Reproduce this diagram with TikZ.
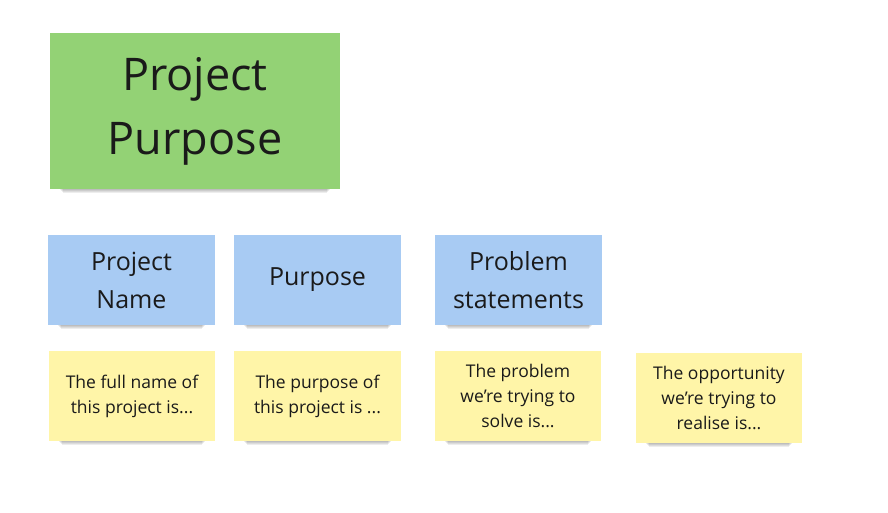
\documentclass[tikz,border=0pt]{standalone}
\usepackage{fontspec}
\setmainfont{Open Sans}
\definecolor{gr}{HTML}{93D275}
\definecolor{bl}{HTML}{A8CBF3}
\definecolor{ye}{HTML}{FFF5A8}
\definecolor{tx}{HTML}{1A1A1A}
\tikzset{
  sticky/.style={inner sep=0pt, align=center, text=tx},
  shd/.style={fill=black, opacity=0.07},
  big/.style={font=\fontsize{45}{64}\selectfont},
  mid/.style={font=\fontsize{25}{38}\selectfont},
  sml/.style={font=\fontsize{17.5}{25}\selectfont},
}
\newcommand{\note}[8]{% name, x1, y1, x2, y2, color, style, text
  \foreach \k in {1,...,5}{
    \fill[shd] ({#2+8+\k},{-#5+1-\k}) rectangle ({#4-8-\k},{-#5+12-\k});
  }
  \fill[#6] (#2,-#3) rectangle (#4,-#5);
  \node[sticky, #7] (#1) at ({(#2+#4)/2},{-(#3+#5)/2}) {#8};
}
\begin{document}
\begin{tikzpicture}[x=1pt,y=1pt]
\useasboundingbox[fill=white] (0,0) rectangle (888,-513);
\note{main}{50}{33}{340}{189}{gr}{big}{Project\\Purpose}
\note{name}{48}{235}{215}{325}{bl}{mid}{Project\\Name}
\note{purp}{234}{235}{401}{325}{bl}{mid}{Purpose}
\note{prob}{435}{235}{602}{325}{bl}{mid}{Problem\\statements}
\note{y1}{49}{351}{215}{441}{ye}{sml}{The full name of\\this project is...}
\note{y2}{234}{351}{401}{441}{ye}{sml}{The purpose of\\this project is ...}
\note{y3}{435}{351}{601}{441}{ye}{sml}{The problem\\we're trying to\\solve is...}
\note{y4}{636}{353}{802}{443}{ye}{sml}{The opportunity\\we're trying to\\realise is...}
\end{tikzpicture}
\end{document}
